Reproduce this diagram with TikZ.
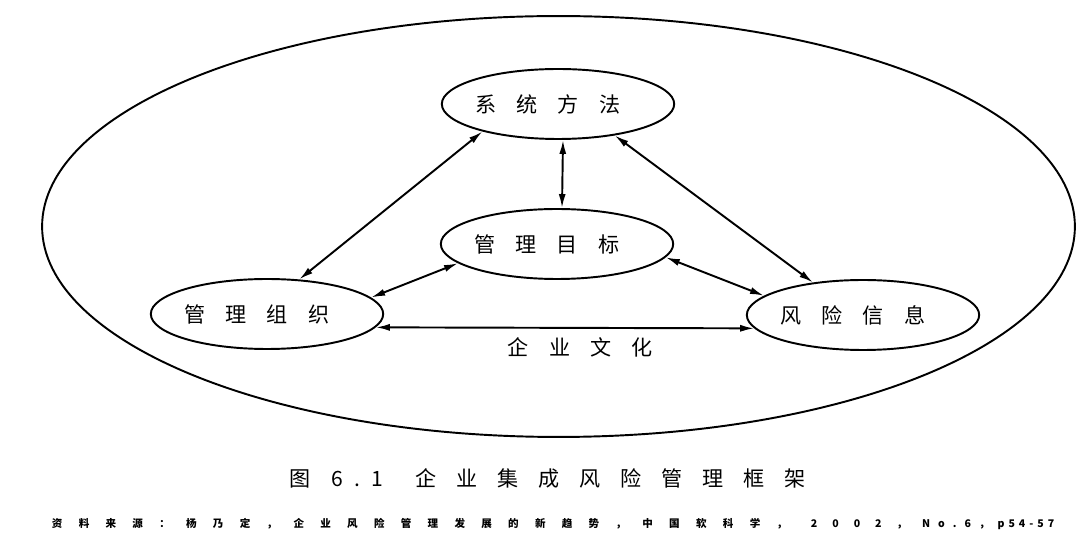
\documentclass[tikz,border=0pt]{standalone}
\usepackage{fontspec}
\usepackage{tikz}
\usetikzlibrary{shapes.geometric, arrows.meta}
\setmainfont{Noto Sans CJK SC}

% 字间距
\ExplSyntaxOn
\NewDocumentCommand{\letterspaced}{m m}{\tl_map_inline:nn {#2} {##1\hspace{#1}}}
\ExplSyntaxOff
\newcommand{\partlabel}[1]{\letterspaced{0.4cm}{#1}\hspace{0.3cm}}

\begin{document}
\begin{tikzpicture}[x=0.02cm, y=-0.02cm, line width=1.1pt,
  every node/.style={font=\fontsize{12}{14}\selectfont},
  part/.style={draw, ellipse, inner sep=0pt, minimum width=4.52cm, minimum height=1.40cm},
  twoway/.style={{Latex[length=2.8mm,width=1.4mm]}-{Latex[length=2.8mm,width=1.4mm]}}]
  \useasboundingbox (0,0) rectangle (1080,540);
  % 外框
  \draw (558.5,226.5) ellipse [x radius=10.33cm, y radius=4.21cm];
  % 四个要素
  \node[part] (sys)  at (558,104) {\partlabel{系统方法}};
  \node[part] (goal) at (557,244) {\partlabel{管理目标}};
  \node[part] (org)  at (267,314) {\partlabel{管理组织}};
  \node[part] (risk) at (863,315) {\partlabel{风险信息}};
  % 双向箭头
  \draw[twoway] (sys.200) -- (org.47);
  \draw[twoway] ([xshift=0.1cm]sys.south) -- ([xshift=0.1cm]goal.north);
  \draw[twoway] (sys.-29) -- (risk.147);
  \draw[twoway] (goal.191) -- (org.9);
  \draw[twoway] (goal.-7) -- (risk.169);
  \draw[twoway] (org.-7) -- (risk.187)
    node[pos=0.54, yshift=-0.4cm] (culture) {\letterspaced{0.4cm}{企业文化}};
  % 图题与出处
  \node (caption) at (548,478) {\letterspaced{0.4cm}{图}6\hspace{0.23cm}.\hspace{0.23cm}1\hspace{0.64cm}\letterspaced{0.4cm}{企业集成风险管理框架}};
  \node[font=\fontsize{6}{7}\selectfont\bfseries, anchor=west, inner sep=0pt] (source) at (51,524)
    {\letterspaced{0.326cm}{资料来源：杨乃定，企业风险管理发展的新趋势，中国软科学，}\hspace{0.15cm}\letterspaced{0.3cm}{2002，}\letterspaced{0.16cm}{No.6，}\letterspaced{0.08cm}{p54-57}};
\end{tikzpicture}
\end{document}
